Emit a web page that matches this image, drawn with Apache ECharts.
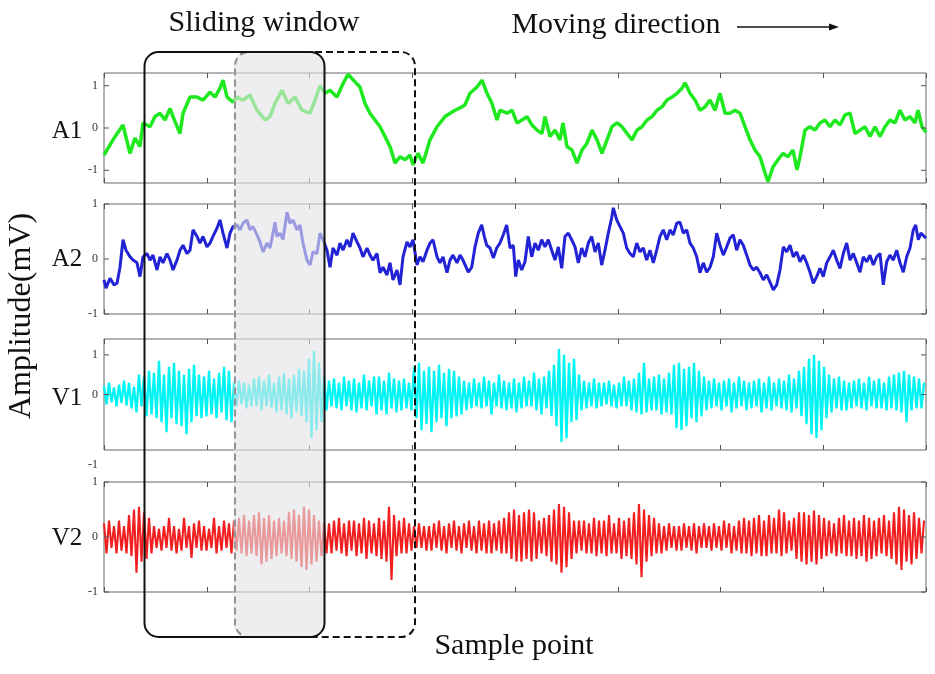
<!DOCTYPE html>
<html>
<head>
<meta charset="utf-8">
<script src="https://cdn.jsdelivr.net/npm/echarts@6/dist/echarts.min.js"></script>
<style>
html, body { margin: 0; padding: 0; background: #fff; }
#chart { width: 935px; height: 674px; }
</style>
</head>
<body>
<div id="chart"></div>
<script>
// sample axis (no labels on it, 8 tick divisions)
const sampleMax = 8220;
const sampleStep = 25; // spacing of the V1 / V2 samples

// A1 trace: [sample, mV]
const a1Trace = [
    [0,-0.64],[30,-0.52],[90,-0.28],[140,-0.10],[190,0.07],[260,-0.60],[310,-0.24],[360,-0.44],[390,0.12],[460,0.03],
    [510,0.27],[560,0.35],[610,0.19],[660,0.46],[710,0.15],[760,-0.13],[790,0.35],[860,0.73],[930,0.73],[990,0.66],
    [1060,0.85],[1110,0.73],[1160,0.94],[1190,1.13],[1230,0.73],[1290,0.61],[1330,0.73],[1390,0.66],[1460,0.78],[1530,0.42],
    [1610,0.19],[1660,0.27],[1710,0.58],[1780,0.89],[1840,0.58],[1910,0.73],[1980,0.42],[2060,0.35],[2110,0.66],[2160,1.00],
    [2210,0.82],[2260,0.89],[2330,0.73],[2390,1.05],[2440,1.27],[2510,1.09],[2560,0.97],[2610,0.58],[2660,0.35],[2710,0.19],
    [2760,0.03],[2810,-0.20],[2860,-0.44],[2910,-0.83],[2960,-0.68],[3010,-0.75],[3060,-0.64],[3090,-0.87],[3140,-0.60],[3190,-0.83],
    [3260,-0.28],[3330,0.03],[3410,0.27],[3510,0.42],[3580,0.50],[3610,0.55],[3660,0.82],[3730,0.97],[3780,1.13],[3830,0.82],
    [3880,0.58],[3930,0.19],[3960,0.42],[4030,0.35],[4080,0.42],[4130,0.12],[4180,0.19],[4230,0.27],[4280,0.07],[4330,-0.05],
    [4380,-0.13],[4410,0.27],[4460,-0.20],[4510,-0.05],[4560,-0.28],[4590,0.12],[4630,-0.44],[4680,-0.52],[4730,-0.83],[4780,-0.52],
    [4830,-0.36],[4880,-0.05],[4930,-0.28],[4980,-0.60],[5030,-0.28],[5080,0.03],[5130,0.12],[5180,0.03],[5230,-0.13],[5280,-0.28],
    [5330,-0.05],[5380,0.03],[5430,0.19],[5480,0.27],[5530,0.42],[5580,0.50],[5630,0.66],[5680,0.73],[5730,0.82],[5780,0.94],
    [5810,1.07],[5860,0.82],[5910,0.66],[5960,0.42],[6010,0.50],[6060,0.66],[6110,0.42],[6160,0.82],[6210,0.35],[6260,0.35],
    [6310,0.42],[6360,0.35],[6410,0.03],[6460,-0.28],[6510,-0.52],[6560,-0.68],[6610,-1.06],[6640,-1.27],[6690,-0.92],[6740,-0.75],
    [6790,-0.60],[6840,-0.68],[6890,-0.52],[6930,-0.99],[6960,-0.68],[7010,-0.05],[7060,0.03],[7110,-0.05],[7160,0.12],[7210,0.19],
    [7260,0.03],[7310,0.19],[7360,0.07],[7410,0.31],[7460,0.35],[7510,-0.13],[7560,-0.05],[7610,0.03],[7660,-0.20],[7710,0.03],
    [7760,-0.20],[7810,0.03],[7860,0.19],[7910,0.12],[7960,0.42],[8010,0.19],[8060,0.27],[8110,0.12],[8140,0.42],[8180,0.03],
    [8220,-0.10]
];

// A2 trace: [sample, mV]
const a2Trace = [
    [0,-0.38],[20,-0.53],[60,-0.35],[100,-0.47],[130,-0.44],[160,-0.15],[190,0.35],[220,0.16],[260,0.04],[290,-0.02],
    [330,-0.07],[360,-0.32],[390,0.04],[430,0.10],[460,-0.02],[490,0.07],[530,-0.20],[560,0.04],[590,-0.07],[630,0.10],
    [660,-0.02],[690,-0.20],[730,-0.02],[760,0.16],[790,0.25],[830,0.10],[860,0.16],[890,0.53],[930,0.41],[960,0.29],
    [990,0.41],[1030,0.22],[1060,0.29],[1090,0.41],[1130,0.56],[1160,0.71],[1190,0.47],[1230,0.20],[1260,0.47],[1290,0.59],
    [1330,0.62],[1360,0.53],[1390,0.65],[1430,0.71],[1460,0.53],[1490,0.59],[1530,0.44],[1560,0.31],[1590,0.13],[1630,0.29],
    [1660,0.20],[1690,0.47],[1710,0.67],[1730,0.41],[1760,0.47],[1790,0.35],[1830,0.85],[1860,0.65],[1890,0.71],[1930,0.53],
    [1960,0.62],[1990,0.29],[2030,-0.02],[2060,-0.11],[2090,0.13],[2130,0.10],[2160,0.47],[2190,0.35],[2230,0.16],[2260,-0.15],
    [2290,0.20],[2330,0.07],[2360,0.29],[2390,0.16],[2430,0.35],[2460,0.22],[2490,0.47],[2530,0.31],[2560,0.20],[2590,0.04],
    [2630,0.20],[2660,0.07],[2690,-0.02],[2730,0.10],[2760,-0.25],[2790,-0.15],[2830,-0.29],[2860,-0.07],[2890,-0.38],[2930,-0.20],
    [2960,-0.47],[2990,0.04],[3030,0.31],[3060,0.22],[3090,0.35],[3130,-0.11],[3160,0.04],[3190,-0.05],[3230,0.16],[3260,0.29],
    [3290,0.35],[3330,0.04],[3360,-0.07],[3390,0.04],[3430,-0.25],[3460,-0.02],[3490,0.07],[3530,-0.07],[3560,0.07],[3590,-0.02],
    [3610,-0.02],[3643,-0.24],[3677,-0.15],[3710,0.22],[3743,0.47],[3777,0.62],[3803,0.41],[3827,0.25],[3860,0.20],[3893,0.02],
    [3927,0.20],[3960,0.29],[3993,0.44],[4027,0.62],[4060,0.20],[4093,0.25],[4117,-0.32],[4143,-0.02],[4177,-0.20],[4210,-0.05],
    [4243,0.41],[4277,0.04],[4310,0.29],[4343,0.16],[4377,0.35],[4410,0.22],[4443,0.35],[4477,0.16],[4510,-0.02],[4543,0.22],
    [4577,-0.17],[4610,0.41],[4643,0.47],[4677,0.35],[4710,0.22],[4743,-0.07],[4777,0.20],[4810,0.04],[4843,0.29],[4877,0.41],
    [4910,0.13],[4943,0.29],[4977,-0.11],[5010,0.16],[5043,0.47],[5077,0.75],[5093,0.93],[5127,0.71],[5160,0.59],[5193,0.47],
    [5227,0.20],[5260,0.10],[5293,0.04],[5327,0.29],[5360,0.13],[5393,0.20],[5427,-0.02],[5460,0.16],[5493,-0.07],[5527,0.16],
    [5560,0.41],[5593,0.53],[5627,0.35],[5660,0.53],[5693,0.44],[5727,0.65],[5760,0.67],[5793,0.47],[5827,0.53],[5860,0.29],
    [5893,0.20],[5927,0.04],[5960,-0.25],[5993,-0.07],[6027,-0.24],[6060,-0.15],[6093,0.04],[6127,0.47],[6160,0.25],[6193,0.07],
    [6227,0.22],[6260,0.38],[6293,0.44],[6327,0.16],[6360,0.35],[6393,0.25],[6427,0.07],[6460,-0.11],[6493,-0.20],[6527,-0.15],
    [6560,-0.25],[6593,-0.38],[6627,-0.29],[6660,-0.42],[6693,-0.56],[6727,-0.47],[6760,-0.20],[6793,0.22],[6827,0.13],[6860,0.25],
    [6893,0.04],[6927,0.13],[6960,-0.05],[6993,0.07],[7027,-0.07],[7060,-0.24],[7093,-0.44],[7127,-0.32],[7160,-0.17],[7193,-0.32],
    [7227,-0.07],[7260,0.04],[7293,0.16],[7327,-0.02],[7360,-0.17],[7393,0.10],[7427,0.29],[7460,-0.02],[7493,0.10],[7527,-0.07],
    [7560,-0.24],[7593,0.04],[7627,-0.05],[7660,0.07],[7693,-0.11],[7727,0.04],[7760,0.10],[7793,-0.47],[7827,-0.05],[7860,0.07],
    [7893,-0.02],[7927,0.16],[7960,-0.07],[7993,-0.24],[8027,0.04],[8060,0.20],[8093,0.53],[8117,0.62],[8143,0.35],[8170,0.47],
    [8203,0.41],[8220,0.38]
];

// V1 samples, one every sampleStep
const v1Values = [
    0.22,-0.25,0.30,-0.20,0.18,-0.30,0.25,-0.22,0.35,-0.28,
    0.30,-0.35,0.20,-0.45,0.50,-0.30,0.45,-0.55,0.60,-0.50,
    0.55,-0.60,0.85,-0.70,0.50,-0.95,0.70,-0.60,0.80,-0.75,
    0.60,-0.80,0.50,-1.00,0.65,-0.70,0.75,-0.55,0.50,-0.60,
    0.45,-0.55,0.60,-0.50,0.40,-0.60,0.55,-0.45,0.70,-0.65,
    0.60,-0.70,0.30,-0.30,0.35,-0.25,0.30,-0.35,0.25,-0.30,
    0.40,-0.30,0.45,-0.40,0.35,-0.30,0.50,-0.35,0.30,-0.45,
    0.45,-0.40,0.55,-0.50,0.40,-0.60,0.50,-0.45,0.65,-0.55,
    0.60,-0.70,0.90,-1.10,1.10,-0.90,0.80,-0.70,0.45,-0.40,
    0.35,-0.30,0.40,-0.35,0.30,-0.40,0.45,-0.30,0.35,-0.40,
    0.40,-0.45,0.30,-0.35,0.50,-0.40,0.35,-0.30,0.45,-0.50,
    0.45,-0.40,0.35,-0.50,0.55,-0.35,0.40,-0.45,0.35,-0.40,
    0.40,-0.35,0.30,-0.40,0.70,-0.60,0.80,-0.90,0.60,-0.75,
    0.70,-0.95,0.60,-0.70,0.75,-0.60,0.55,-0.80,0.65,-0.60,
    0.60,-0.55,0.45,-0.50,0.35,-0.40,0.30,-0.35,0.40,-0.30,
    0.30,-0.35,0.45,-0.30,0.35,-0.50,0.30,-0.30,0.50,-0.35,
    0.35,-0.40,0.30,-0.35,0.40,-0.45,0.30,-0.35,0.45,-0.30,
    0.35,-0.30,0.55,-0.40,0.40,-0.50,0.45,-0.35,0.60,-0.55,
    0.75,-0.80,1.15,-1.20,1.00,-1.10,0.80,-0.70,0.90,-0.65,
    0.50,-0.40,0.35,-0.35,0.30,-0.30,0.40,-0.35,0.30,-0.30,
    0.30,-0.25,0.35,-0.30,0.25,-0.35,0.30,-0.30,0.45,-0.30,
    0.35,-0.40,0.40,-0.45,0.55,-0.50,0.80,-0.45,0.40,-0.40,
    0.45,-0.40,0.50,-0.50,0.40,-0.45,0.55,-0.50,0.75,-0.85,
    0.80,-0.90,0.65,-0.80,0.70,-0.60,0.80,-0.70,0.60,-0.55,
    0.45,-0.40,0.35,-0.35,0.40,-0.30,0.30,-0.40,0.35,-0.30,
    0.40,-0.45,0.30,-0.35,0.45,-0.30,0.35,-0.40,0.30,-0.35,
    0.35,-0.30,0.40,-0.45,0.30,-0.35,0.45,-0.40,0.30,-0.30,
    0.40,-0.35,0.35,-0.40,0.50,-0.45,0.40,-0.35,0.60,-0.55,
    0.70,-0.75,0.90,-1.00,1.00,-1.10,0.85,-0.90,0.70,-0.60,
    0.50,-0.45,0.40,-0.35,0.45,-0.40,0.35,-0.40,0.30,-0.35,
    0.35,-0.30,0.40,-0.35,0.30,-0.40,0.45,-0.30,0.35,-0.35,
    0.40,-0.35,0.30,-0.40,0.45,-0.35,0.50,-0.40,0.55,-0.45,
    0.60,-0.70,0.50,-0.40,0.45,-0.35,0.40,-0.35,0.30
];

// V2 samples, one every sampleStep
const v2Values = [
    0.25,-0.30,0.30,-0.20,0.20,-0.30,0.30,-0.25,0.20,-0.30,
    0.40,-0.35,0.50,-0.65,0.55,-0.45,0.45,-0.40,0.35,-0.30,
    0.20,-0.20,0.15,-0.25,0.20,-0.20,0.35,-0.25,0.20,-0.30,
    0.15,-0.25,0.35,-0.20,0.20,-0.38,0.25,-0.20,0.30,-0.25,
    0.20,-0.25,0.15,-0.20,0.35,-0.30,0.20,-0.25,0.30,-0.20,
    0.25,-0.30,0.30,-0.25,0.35,-0.30,0.40,-0.35,0.30,-0.30,
    0.40,-0.35,0.45,-0.50,0.35,-0.45,0.40,-0.40,0.30,-0.35,
    0.35,-0.30,0.30,-0.35,0.45,-0.40,0.50,-0.45,0.40,-0.55,
    0.55,-0.60,0.50,-0.50,0.40,-0.45,0.30,-0.35,0.25,-0.30,
    0.25,-0.30,0.30,-0.25,0.35,-0.30,0.25,-0.35,0.30,-0.25,
    0.30,-0.35,0.25,-0.30,0.35,-0.40,0.30,-0.30,0.25,-0.35,
    0.35,-0.40,0.30,-0.45,0.55,-0.78,0.40,-0.35,0.30,-0.30,
    0.35,-0.30,0.25,-0.25,0.20,-0.20,0.25,-0.20,0.20,-0.25,
    0.20,-0.25,0.25,-0.20,0.30,-0.25,0.20,-0.30,0.25,-0.20,
    0.30,-0.25,0.20,-0.30,0.25,-0.20,0.30,-0.25,0.20,-0.30,
    0.30,-0.25,0.25,-0.30,0.30,-0.30,0.25,-0.25,0.30,-0.30,
    0.35,-0.30,0.45,-0.40,0.50,-0.45,0.40,-0.45,0.45,-0.40,
    0.50,-0.45,0.45,-0.40,0.30,-0.30,0.35,-0.35,0.40,-0.45,
    0.50,-0.50,0.60,-0.65,0.55,-0.55,0.45,-0.40,0.30,-0.30,
    0.30,-0.25,0.30,-0.30,0.25,-0.30,0.35,-0.35,0.30,-0.30,
    0.30,-0.35,0.40,-0.30,0.25,-0.30,0.35,-0.40,0.30,-0.35,
    0.35,-0.40,0.45,-0.50,0.60,-0.73,0.50,-0.45,0.40,-0.35,
    0.35,-0.30,0.25,-0.30,0.20,-0.25,0.25,-0.20,0.20,-0.25,
    0.20,-0.25,0.25,-0.20,0.20,-0.25,0.25,-0.30,0.20,-0.20,
    0.25,-0.20,0.20,-0.25,0.25,-0.20,0.20,-0.25,0.30,-0.20,
    0.25,-0.30,0.20,-0.25,0.30,-0.30,0.35,-0.30,0.30,-0.35,
    0.35,-0.30,0.40,-0.35,0.30,-0.35,0.40,-0.30,0.35,-0.30,
    0.50,-0.35,0.45,-0.30,0.30,-0.25,0.35,-0.40,0.45,-0.45,
    0.45,-0.50,0.40,-0.45,0.48,-0.50,0.40,-0.40,0.35,-0.35,
    0.30,-0.30,0.25,-0.35,0.35,-0.30,0.40,-0.35,0.30,-0.35,
    0.35,-0.40,0.30,-0.35,0.40,-0.45,0.35,-0.40,0.30,-0.35,
    0.35,-0.30,0.40,-0.35,0.30,-0.40,0.45,-0.50,0.55,-0.60,
    0.50,-0.45,0.40,-0.50,0.45,-0.40,0.35,-0.30,0.30
];

// tick labels
const tickLabelsFull = [-1, 0, 1];
const tickLabelsV1 = [0, 1];

// sliding windows, in samples
const windowNow = [405, 2205];
const windowNext = [1310, 3110];

const SERIF = '"Liberation Serif", "Times New Roman", "DejaVu Serif", serif';

function toUniform(values) {
    return values.map((v, i) => [i * sampleStep, v]);
}

const panels = [
    { name: 'A1', color: '#1ee81e', width: 3.5, top: 73, height: 110, min: -1.3, max: 1.3, ticks: tickLabelsFull, data: a1Trace, labelY: 131 },
    { name: 'A2', color: '#2323d6', width: 3, top: 204, height: 110, min: -1, max: 1, ticks: tickLabelsFull, data: a2Trace, labelY: 259.5 },
    { name: 'V1', color: '#00f4f4', width: 2.3, top: 339, height: 111, min: -1.4, max: 1.4, ticks: tickLabelsV1, data: toUniform(v1Values), labelY: 398.5 },
    { name: 'V2', color: '#f02020', width: 2.1, top: 482, height: 110, min: -1, max: 1, ticks: tickLabelsFull, data: toUniform(v2Values), labelY: 538.5 }
];

const chart = echarts.init(document.getElementById('chart'), null, { renderer: 'canvas' });

const grids = [], xAxes = [], yAxes = [], series = [];
panels.forEach((p, i) => {
    grids.push({
        left: 104, right: 9, top: p.top, height: p.height,
        show: true, borderColor: '#666', borderWidth: 1, backgroundColor: 'transparent'
    });
    ['bottom', 'top'].forEach(pos => {
        xAxes.push({
            gridIndex: i, type: 'value', position: pos,
            min: 0, max: sampleMax, interval: sampleMax / 8,
            axisLine: { show: false, onZero: false },
            axisTick: { show: true, inside: true, length: 5, lineStyle: { color: '#555', width: 1 } },
            axisLabel: { show: false },
            splitLine: { show: false }
        });
    });
    yAxes.push({
        gridIndex: i, type: 'value', position: 'left',
        min: p.min, max: p.max,
        axisLine: { show: false, onZero: false },
        axisTick: { show: false },
        axisLabel: {
            show: true, customValues: p.ticks, margin: 6,
            fontFamily: SERIF, fontSize: 12, color: '#333'
        },
        splitLine: { show: false }
    });
    series.push({
        name: p.name,
        type: 'line',
        xAxisIndex: i * 2,
        yAxisIndex: i,
        data: p.data,
        symbol: 'none',
        showSymbol: false,
        silent: true,
        lineStyle: { color: p.color, width: p.width, join: 'bevel' },
        clip: true
    });
});

const option = {
    animation: false,
    backgroundColor: '#fff',
    grid: grids,
    xAxis: xAxes,
    yAxis: yAxes,
    series: series
};

chart.setOption(option);

// window outlines placed through the sample axis
const px = s => chart.convertToPixel({ xAxisIndex: 0 }, s);
const nowL = px(windowNow[0]), nowR = px(windowNow[1]);
const nextL = px(windowNext[0]), nextR = px(windowNext[1]);
const plotL = px(0), plotR = px(sampleMax);
const boxTop = 52, boxBottom = 637, radius = 14;

const graphics = [];

// inner y ticks on both sides, placed through each panel's y axis
panels.forEach((p, i) => {
    p.ticks.forEach(v => {
        const y = chart.convertToPixel({ yAxisIndex: i }, v);
        graphics.push(
            { type: 'line', z: 50, shape: { x1: plotL, y1: y, x2: plotL + 5, y2: y }, style: { stroke: '#555', lineWidth: 1 } },
            { type: 'line', z: 50, shape: { x1: plotR - 5, y1: y, x2: plotR, y2: y }, style: { stroke: '#555', lineWidth: 1 } }
        );
    });
});

graphics.push(
    {
        type: 'rect', z: 100,
        shape: { x: nextL, y: boxTop, width: nextR - nextL, height: boxBottom - boxTop, r: radius },
        style: { fill: 'none', stroke: '#111', lineWidth: 2, lineDash: [7, 4] }
    },
    {
        type: 'rect', z: 101,
        shape: { x: nextL - 1.5, y: boxTop, width: nowR - nextL + 1.5, height: boxBottom - boxTop, r: radius },
        style: { fill: 'rgba(227,227,231,0.62)' }
    },
    {
        type: 'rect', z: 102,
        shape: { x: nowL, y: boxTop, width: nowR - nowL, height: boxBottom - boxTop, r: radius },
        style: { fill: 'none', stroke: '#111', lineWidth: 2 }
    },
    {
        type: 'text', z: 103, x: 264, y: 23,
        style: { text: 'Sliding window', font: '30px ' + SERIF, fill: '#111', align: 'center', verticalAlign: 'middle' }
    },
    {
        type: 'text', z: 103, x: 616, y: 25,
        style: { text: 'Moving direction', font: '30px ' + SERIF, fill: '#111', align: 'center', verticalAlign: 'middle' }
    },
    {
        type: 'line', z: 103,
        shape: { x1: 737, y1: 27, x2: 832, y2: 27 },
        style: { stroke: '#111', lineWidth: 1.6 }
    },
    {
        type: 'polygon', z: 103,
        shape: { points: [[829, 23.5], [839, 27], [829, 30.5]] },
        style: { fill: '#111' }
    },
    {
        type: 'text', z: 103, x: 514, y: 646,
        style: { text: 'Sample point', font: '30px ' + SERIF, fill: '#111', align: 'center', verticalAlign: 'middle' }
    },
    {
        type: 'text', z: 103, x: 22, y: 316, rotation: Math.PI / 2,
        style: { text: 'Amplitude(mV)', font: '32px ' + SERIF, fill: '#111', align: 'center', verticalAlign: 'middle' }
    },
    {
        type: 'text', z: 103, x: 98, y: 465,
        style: { text: '-1', font: '12px ' + SERIF, fill: '#333', align: 'right', verticalAlign: 'middle' }
    }
);
panels.forEach(p => {
    graphics.push({
        type: 'text', z: 103, x: 67, y: p.labelY,
        style: { text: p.name, font: '25px ' + SERIF, fill: '#111', align: 'center', verticalAlign: 'middle' }
    });
});

chart.setOption({ graphic: graphics });
</script>
</body>
</html>
